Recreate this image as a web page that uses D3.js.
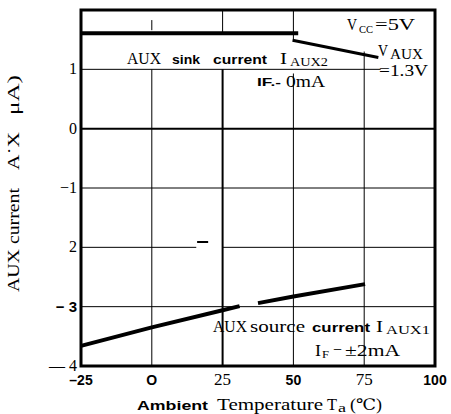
<!DOCTYPE html>
<html>
<head>
<meta charset="utf-8">
<script src="https://cdn.jsdelivr.net/npm/d3@7"></script>
<style>
  html, body { margin: 0; padding: 0; background: #fff; }
  svg { display: block; }
  .serif { font-family: "Liberation Serif", "DejaVu Serif", serif; }
  .sans { font-family: "Liberation Sans", Arial, sans-serif; font-weight: bold; }
</style>
</head>
<body>
<svg id="chart" width="451" height="414"></svg>
<script>
// Ambient temperature (°C) and AUX currents (µA)
const sinkFlatTemp = [-25, 51.7];
const sinkFlatCurrent = [1.607, 1.607];
const sinkSlopeTemp = [49.7, 80];
const sinkSlopeCurrent = [1.49, 1.2];
const sourceTempA = [-25, 0, 25, 31];
const sourceCurrentA = [-3.66, -3.35, -3.06, -2.99];
const sourceTempB = [37.5, 50, 75.3];
const sourceCurrentB = [-2.94, -2.83, -2.62];

const xTicks = [-25, 0, 25, 50, 75, 100];
const xTickLabels = ["–25", "O", "25", "50", "75", "100"];
const xTickSans = [true, true, false, true, false, true];
const yTicks = [1, 0, -1, -2, -3, -4];
const yTickLabels = ["1", "0", "−1", "2", "− 3", "— 4"];
const yTickSans = [false, false, false, false, true, false];

const svg = d3.select("#chart");
const x = d3.scaleLinear().domain([-25, 100]).range([81, 435]);
const y = d3.scaleLinear().domain([-4, 2]).range([366, 10]);

// grid segments: [value, from, to, width]
const vGrid = [
  [0, 1.83, 1.66, 1], [0, 1, -4, 1],
  [25, 2, 1.62, 1], [25, 1, -4, 2],
  [50, 2, 1.49, 1], [50, 0.93, -4, 1],
  [75, 1.3, -4, 1]
];
const hGrid = [
  [1, -25, 80.8, 1], [0, -25, 100, 2], [-1, -25, 100, 1],
  [-2, -25, 15.7, 1], [-2, 24.8, 100, 1], [-3, -25, 100, 1]
];
const g = svg.append("g");
g.selectAll("line.v").data(vGrid).join("line")
  .attr("x1", d => x(d[0])).attr("x2", d => x(d[0]))
  .attr("y1", d => y(d[1])).attr("y2", d => y(d[2]))
  .attr("stroke", "#000").attr("stroke-width", d => d[3]);
g.selectAll("line.h").data(hGrid).join("line")
  .attr("y1", d => y(d[0])).attr("y2", d => y(d[0]))
  .attr("x1", d => x(d[1])).attr("x2", d => x(d[2]))
  .attr("stroke", "#000").attr("stroke-width", d => d[3]);
// stray dash beside the -2 line
g.append("line").attr("x1", x(16)).attr("x2", x(19.9))
  .attr("y1", y(-1.91)).attr("y2", y(-1.91))
  .attr("stroke", "#000").attr("stroke-width", 2);

// curves
const line = d3.line().x(d => x(d[0])).y(d => y(d[1]));
function curve(t, v, w) {
  svg.append("path").datum(d3.zip(t, v)).attr("d", line)
    .attr("fill", "none").attr("stroke", "#000").attr("stroke-width", w)
    .attr("stroke-linecap", "butt");
}
curve(sinkFlatTemp, sinkFlatCurrent, 4);
curve(sinkSlopeTemp, sinkSlopeCurrent, 3);
curve(sourceTempA, sourceCurrentA, 4);
curve(sourceTempB, sourceCurrentB, 4);

// frame
svg.append("rect").attr("x", x(-25)).attr("y", y(2))
  .attr("width", x(100) - x(-25)).attr("height", y(-4) - y(2))
  .attr("fill", "none").attr("stroke", "#000").attr("stroke-width", 3);

// tick labels
svg.selectAll("text.xt").data(xTicks).join("text")
  .attr("class", (d, i) => xTickSans[i] ? "sans" : "serif")
  .attr("x", d => x(d)).attr("y", 385).attr("text-anchor", "middle")
  .attr("font-size", (d, i) => xTickSans[i] ? 14 : 17)
  .text((d, i) => xTickLabels[i]);
svg.selectAll("text.yt").data(yTicks).join("text")
  .attr("class", (d, i) => yTickSans[i] ? "sans" : "serif")
  .attr("x", 77).attr("y", d => y(d) + 5).attr("text-anchor", "end")
  .attr("font-size", (d, i) => yTickSans[i] ? 15 : 16)
  .text((d, i) => yTickLabels[i]);

// text piece: [x, y, text, class, size, width]
function piece(p, parent) {
  const t = (parent || svg).append("text").attr("class", p[3])
    .attr("x", p[0]).attr("y", p[1]).attr("font-size", p[4]).text(p[2]);
  if (p[5]) t.attr("textLength", p[5]).attr("lengthAdjust", "spacingAndGlyphs");
  return t;
}

// axis titles
[
  [137, 410, "Ambient", "sans", 13, 71],
  [217, 410, "Temperature", "serif", 17, 106],
  [327, 410, "T", "serif", 17, 10],
  [338, 412, "a", "serif", 12, 8],
  [350, 410, "(℃)", "serif", 16, 32]
].forEach(p => piece(p));

const yTitle = svg.append("g").attr("transform", "translate(19,0) rotate(-90)");
[
  [-292, 0, "AUX current", "serif", 17, 104],
  [-170, 0, "A˙X", "serif", 17, 38],
  [-115, 0, "μA)", "serif", 17, 40]
].forEach(p => piece(p, yTitle));

// annotations
[
  [347, 30, "V", "serif", 17, 10],
  [359, 33, "CC", "serif", 11, 14],
  [375, 30, "=5V", "serif", 17, 40],
  [378, 56, "V", "serif", 17, 10],
  [390, 59, "AUX", "serif", 14, 33],
  [379, 76, "=1.3V", "serif", 17, 49],
  [127, 64, "AUX", "serif", 17, 34],
  [172, 64, "sink", "sans", 13, 28],
  [213, 64, "current", "sans", 13, 54],
  [280, 64, "I", "serif", 17, 7],
  [290, 66, "AUX2", "serif", 12, 38],
  [257, 86, "IF.-", "sans", 11, 24],
  [286, 87, "0mA", "serif", 17, 39],
  [213, 332, "AUX", "serif", 17, 34],
  [250, 332, "source", "serif", 16, 55],
  [312, 332, "current", "sans", 13, 58],
  [376, 332, "I", "serif", 17, 7],
  [386, 334, "AUX1", "serif", 12, 44],
  [315, 356, "I", "serif", 17, 6],
  [322, 358, "F", "serif", 11, 7],
  [333, 355, "−", "serif", 16, 9],
  [345, 356, "±2mA", "serif", 17, 55]
].forEach(p => piece(p));
</script>
</body>
</html>
